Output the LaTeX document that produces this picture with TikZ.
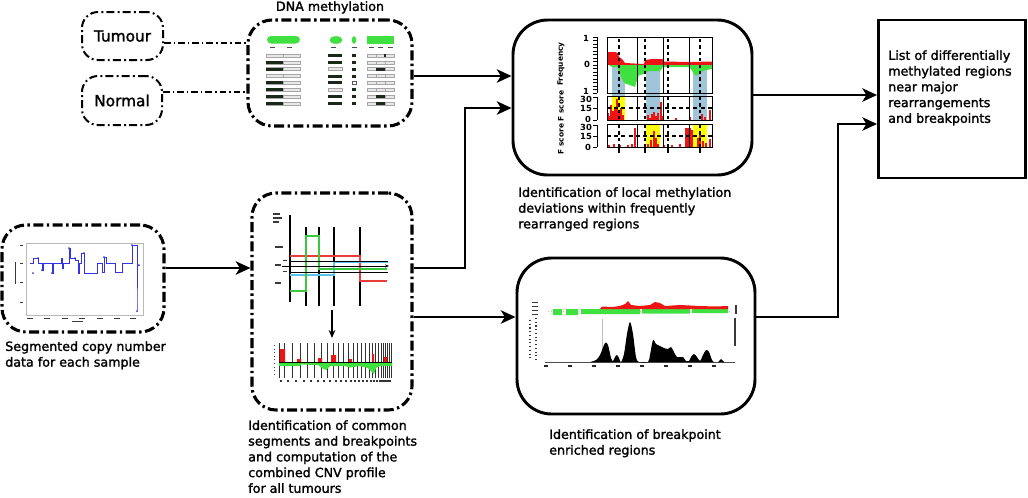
\documentclass[tikz,border=0pt]{standalone}
\usepackage{fontspec}
\setmainfont{DejaVu Sans}[FakeBold=1.6]
\newfontfamily\plotfont{DejaVu Sans Bold}
\usetikzlibrary{arrows.meta}
\definecolor{mgreen}{RGB}{64,224,64}
\definecolor{mred}{RGB}{236,20,20}
\definecolor{sblue}{RGB}{160,196,216}
\definecolor{yel}{RGB}{255,255,0}
\definecolor{cblue}{RGB}{90,195,235}
\definecolor{cgreen}{RGB}{60,200,60}
\definecolor{cred}{RGB}{235,60,60}
\definecolor{segblue}{RGB}{50,50,230}
\definecolor{mdark}{RGB}{25,40,25}
\definecolor{mlight}{RGB}{232,232,232}
\begin{document}
\begin{tikzpicture}[x=0.75pt,y=-0.75pt,
  ddbox/.style={draw, line width=2.3pt, dash pattern=on 7.5pt off 2.6pt on 1.8pt off 2.6pt, rounded corners=18pt, inner sep=0pt},
  ddsmall/.style={draw, line width=1.5pt, dash pattern=on 6pt off 2.4pt on 1.4pt off 2.4pt, rounded corners=12pt, inner sep=0pt, font=\fontsize{11.5}{13}\selectfont},
  sbox/.style={draw, line width=2.2pt, rounded corners=26pt, inner sep=0pt},
  rbox/.style={draw, line width=1.9pt, inner sep=0pt},
  arr/.style={line width=2.2pt, -{Stealth[length=11pt,width=10pt,inset=3pt]}},
  ddline/.style={line width=1.1pt, dash pattern=on 5pt off 2.2pt on 1.2pt off 2.2pt},
  captext/.style={font=\fontsize{9.5}{11.8}\selectfont, align=left, inner sep=0pt, anchor=north west},
  tinytxt/.style={font=\plotfont\fontsize{6.3}{7}\selectfont, inner sep=0pt},
  rtinytxt/.style={font=\plotfont\fontsize{5.6}{6}\selectfont, inner sep=0pt, rotate=90},
  smudge/.style={gray!45!black, line width=0.9pt}
]
\useasboundingbox (0,0) rectangle (1028,497);

% ---------- helper coordinates ----------
\coordinate (h43) at (0,43);
\coordinate (h92) at (0,92);
\coordinate (h76) at (0,76);
\coordinate (h95) at (0,95);
\coordinate (h108) at (0,108);
\coordinate (h124) at (0,124);
\coordinate (h268) at (0,268);
\coordinate (h317) at (0,317);
\coordinate (v465) at (465,0);
\coordinate (v838) at (838,0);

% ---------- boxes ----------
\node[ddsmall, minimum width=60.75pt, minimum height=36pt] (tum) at (122.5,36) {Tumour};
\node[ddsmall, minimum width=60pt, minimum height=36.75pt] (nor) at (122,100.5) {Normal};
\node[ddbox, minimum width=123pt, minimum height=79.5pt] (meth) at (330,73) {};
\node[sbox, minimum width=179.25pt, minimum height=116.25pt] (freq) at (632.5,97.5) {};
\node[rbox, minimum width=110.5pt, minimum height=118.5pt] (res) at (952,99) {};
\node[ddbox, minimum width=121.5pt, minimum height=80.25pt] (seg) at (83,278.5) {};
\node[ddbox, minimum width=120pt, minimum height=162.75pt] (cnv) at (332,301.5) {};
\node[sbox, minimum width=178.5pt, minimum height=117pt] (brk) at (636,336) {};

% ---------- texts ----------
\node[font=\fontsize{9.5}{12}\selectfont, inner sep=0pt, anchor=north] (tdna) at (330,1) {DNA methylation};
\node[captext] (tfreq) at (518,187) {Identification of local methylation\\deviations within frequently\\rearranged regions};
\node[captext] (tres) at (888,50) {List of differentially\\methylated regions\\near major\\rearrangements\\and breakpoints};
\node[captext] (tseg) at (5,341) {Segmented copy number\\data for each sample};
\node[captext] (tcnv) at (248,420) {Identification of common\\segments and breakpoints\\and computation of the\\combined CNV profile\\for all tumours};
\node[captext] (tbrk) at (549,429) {Identification of breakpoint\\enriched regions};

% ---------- connectors ----------
\draw[ddline] (tum.east |- h43) -- (meth.west |- h43);
\draw[ddline] (nor.east |- h92) -- (meth.west |- h92);
\draw[arr] (meth.east |- h76) -- (freq.west |- h76);
\draw[arr] (cnv.east |- h268) -- (v465 |- h268) -- (v465 |- h108) -- (freq.west |- h108);
\draw[arr] (cnv.east |- h317) -- (brk.west |- h317);
\draw[arr] (seg.east |- h268) -- (cnv.west |- h268);
\draw[arr] (freq.east |- h95) -- (res.west |- h95);
\draw[arr] (brk.east |- h317) -- (v838 |- h317) -- (v838 |- h124) -- (res.west |- h124);

% ---------- DNA methylation table ----------
\fill[mgreen, rounded corners=3pt] (267,36) rectangle (300,43.5);
\fill[mgreen] (336,40) ellipse [x radius=6.5, y radius=3.8];
\fill[mgreen] (354,40) ellipse [x radius=2.2, y radius=3.8];
\fill[mgreen] (367,36) rectangle (394,43.5);
\foreach \x in {270,287,331,352,369,378,388} \draw[gray!60!black, line width=0.5pt] (\x,47) -- (\x+5,47);
\foreach \i/\a/\b/\c/\d in {0/0/1/1/0,1/1/1/1/0,2/1/0/1/2,3/0/1/1/0,4/1/1/0/0,5/1/0/1/0,6/1/1/1/2,7/1/1/1/2}{
  \pgfmathsetmacro\yy{54+\i*6.85}
  \draw[gray!70, line width=0.4pt, fill=mlight] (266,\yy) rectangle (300,{\yy+3});
  \draw[gray!70, line width=0.4pt] (283,\yy) -- (283,{\yy+3});
  \ifnum\a=1 \fill[mdark] (266,\yy) rectangle (283,{\yy+3}); \fi
  \ifnum\b=1 \fill[mdark] (328,\yy) rectangle (342,{\yy+3}); \else \draw[gray!70, line width=0.4pt, fill=mlight] (328,\yy) rectangle (342,{\yy+3}); \fi
  \ifnum\c=1 \fill[mdark] (352,\yy) rectangle (356,{\yy+3}); \else \draw[gray!70!black, line width=0.4pt, fill=white] (352,\yy) rectangle (356,{\yy+3}); \fi
  \draw[gray!70, line width=0.4pt, fill=mlight] (367,\yy) rectangle (394,{\yy+3});
  \draw[gray!70, line width=0.4pt] (376,\yy) -- (376,{\yy+3}) (385,\yy) -- (385,{\yy+3});
  \ifnum\d=2 \fill[mdark] (376,\yy) rectangle (385,{\yy+3}); \fi
}
\fill[mdark] (384,54) rectangle (385.5,57);

% ---------- frequency / F score plot ----------
\fill[sblue] (612,65) rectangle (625,97);
\fill[sblue] (646,65) rectangle (660,120);
\fill[sblue] (693,65) rectangle (707,120);
\fill[yel] (612,97) rectangle (625,120);
\fill[yel] (646,124.5) rectangle (660,147);
\fill[yel] (693,124.5) rectangle (707,147);
\fill[mred] (607,65) -- (607,52) -- (615,52) -- (618,53) -- (619,57) -- (622,59) -- (625,63) -- (644,64) -- (645,60) -- (652,59) -- (663,59) -- (664,61.5) -- (690,62) -- (712,61.5) -- (712,65) -- cycle;
\fill[mgreen] (609,65) -- (612,67) -- (617,67) -- (619,71) -- (621,77) -- (624,83) -- (630,85) -- (635,87) -- (637,80) -- (639,75) -- (645,74) -- (648,71) -- (660,71) -- (663,67) -- (688,67) -- (691,69) -- (694,74) -- (697,76) -- (700,72) -- (706,70) -- (712,69) -- (712,65) -- cycle;
\foreach \x/\t in {608/113,610/116,611/105,613/111,615/109,617/99,619/112,621/108,623/115,648/115,650/118,652/114,654/112,656/116,658/113,661/102,663/116,676/118,690/117,702/114,705/117,710/110}
  \draw[mred, line width=0.9pt] (\x,119.5) -- (\x,\t);
\foreach \x/\t in {609/145,614/144,620/145,628/145,632/144,635/128,648/144,651/140,654/131,656/138,658/144,664/145,672/145,680/144,686/128,688/128,690/128,692/130,698/138,700/134,703/141,706/143,710/139}
  \draw[mred, line width=0.9pt] (\x,146.5) -- (\x,\t);
\draw[line width=0.6pt] (607,37) rectangle (712,93) (607,96) rectangle (712,120) (607,124) rectangle (712,147);
\foreach \x in {637,663,689} \draw[line width=0.6pt] (\x,37) -- (\x,93) (\x,96) -- (\x,120) (\x,124) -- (\x,147);
\foreach \x in {619,645,668,700}{
  \draw[line width=0.8pt, dash pattern=on 2.4pt off 2.4pt] (\x,39) -- (\x,93) (\x,97) -- (\x,120) (\x,125) -- (\x,147);
  \draw[line width=0.8pt] (\x,147) -- (\x,153);
}
\draw[line width=0.8pt, dash pattern=on 3pt off 2.4pt] (607,108) -- (712,108) (607,136) -- (712,136);
\draw[line width=0.6pt] (597,37) -- (597,93) (597,97) -- (597,120) (597,125) -- (597,147);
\foreach \y in {37,40.5,...,93} \draw[line width=0.5pt] (593,\y) -- (597,\y);
\foreach \y in {97,108,120,125,136,147} \draw[line width=0.6pt] (593,\y) -- (597,\y);
\node[tinytxt] (f1) at (586,38) {1};
\node[tinytxt] (f0) at (587,64) {0};
\node[tinytxt] (f2) at (586,91) {1};
\node[tinytxt] (s30a) at (586,99) {30};
\node[tinytxt] (s15a) at (586,108.5) {15};
\node[tinytxt] (s0a) at (588,119) {0};
\node[tinytxt] (s30b) at (586,127) {30};
\node[tinytxt] (s15b) at (586,136.5) {15};
\node[tinytxt] (s0b) at (588,147) {0};
\node[rtinytxt] (lfreq) at (561,64) {Frequency};
\node[rtinytxt] (lfs1) at (561,106) {F score};
\node[rtinytxt] (lfs2) at (561,139) {F score};

% ---------- CNV box: upper plot ----------
\draw[line width=0.9pt] (290,215) -- (290,302);
\foreach \x in {306,319,334,360} \draw[line width=0.9pt] (\x,227) -- (\x,306);
\draw[cred, line width=1.2pt] (290,256) -- (360,256) -- (360,281) -- (387,281);
\draw[cblue, line width=1.2pt] (290,275) -- (334,275) -- (334,262) -- (388,262);
\draw[cgreen, line width=1.2pt] (290,291) -- (306,291) -- (306,236) -- (319,236) -- (319,269) -- (387,269);
\draw[line width=0.6pt] (290,261) -- (388,261) (290,272) -- (388,272);
\draw[line width=0.6pt, -{Stealth[length=3pt,width=2.5pt]}] (282,266) -- (389,266);
\draw[smudge] (273,214) -- (280,214) (273,218) -- (282,218) (273,222) -- (279,222);
\draw[smudge] (275,247) -- (283,247) (275,265) -- (281,265) (275,283) -- (281,283);
\draw[smudge, line width=0.6pt] (283,260) -- (287,260) (283,271) -- (287,271);
\draw[line width=1pt, -{Stealth[length=6pt,width=5pt]}] (332,310) -- (332,338);

% ---------- CNV box: lower plot ----------
\foreach \x in {279,284,292,300,307,314,321,327,333,338,343,348,353,357,361,365,369,372,375,378,381,383,385,387,389,391}
  \draw[gray!40!black, line width=0.5pt] (\x,343) -- (\x,378);
\fill[mred] (280,349) rectangle (285,362) (297,359) rectangle (301,362) (318,358) rectangle (322,362) (331,355) rectangle (336,362) (349,359) rectangle (352,362) (372,354) rectangle (374,362) (384,357) rectangle (387,362);
\fill[mgreen] (279,362) -- (279,366) -- (300,366) -- (301,364.5) -- (318,365) -- (322,368) -- (326,370) -- (330,366) -- (345,366) -- (350,367.5) -- (360,366) -- (368,368) -- (372,372) -- (374,374) -- (376,368) -- (380,366) -- (392,366) -- (392,362) -- cycle;
\draw[line width=0.4pt] (279,362) -- (392,362);
\draw[gray!60!black, line width=0.7pt, dotted] (274,345) -- (274,376);
\foreach \x in {281,288,296,304,311,318,324,330,336,341,346,351,355,359,363,367,371,374,377,380,382,384,386,388,390}
  \fill[gray!40!black] (\x-0.6,380) rectangle (\x+0.6,382);

% ---------- breakpoint plot ----------
\draw[gray!50, line width=0.3pt, dotted] (548,311) -- (730,311);
\fill[mgreen] (553,309) rectangle (562,315) (566,309) rectangle (578,315) (581,309) rectangle (640,314) (642,309) rectangle (690,313.5) (692,309) rectangle (728,313);
\fill[mred] (600,309) -- (602,306.5) -- (612,307) -- (620,306) -- (625,304) -- (628,301) -- (631,305) -- (640,306) -- (650,305) -- (655,302) -- (660,303) -- (665,306) -- (680,305) -- (700,306) -- (715,306.5) -- (728,306) -- (728,309) -- cycle;
\foreach \y in {302,306,310,314} \draw[smudge, line width=0.7pt] (532,\y) -- (538,\y);
\draw[smudge, line width=1.6pt] (736,305) -- (736,314);
\draw[smudge, line width=0.8pt, dotted] (530,320) -- (530,360) (536,318) -- (536,360);
\draw[smudge, line width=1.4pt] (735,318) -- (735,346);
\draw[gray!60!black, line width=0.3pt] (545,362) -- (735,362);
\draw[gray!50, line width=0.3pt] (602,319) -- (602,362);
\fill[black] plot[smooth, tension=0.5] coordinates {(590,362) (596,360) (600,355) (605,343) (608,345) (611,358) (613,361) (615,357) (617,355) (619,358) (621,362) (624,354) (627,334) (630,322) (633,334) (636,357) (639,362) (648,362) (650,355) (653,340) (656,344) (660,346) (664,348) (668,349) (671,347) (674,352) (677,357) (683,357) (686,361) (689,361) (691,357) (694,354) (697,357) (700,361) (703,355) (706,350) (709,352) (712,360) (714,362)} -- cycle;
\fill[black] (718,362) -- (721,359) -- (724,362) -- cycle;
\foreach \x in {546,570,594,618,642,666,690,714} \draw[gray!30!black, line width=1pt] (\x-2,366) -- (\x+2,366);

% ---------- segmented copy number plot ----------
\draw[gray!55, line width=0.4pt] (26,243) rectangle (143,315);
\foreach \y in {245,263,282,302} \draw[smudge, line width=0.6pt] (20,\y) -- (23,\y);
\draw[smudge, line width=0.5pt] (15,262) -- (15,284);
\foreach \x in {30,47,65,82,100,117,133} \draw[smudge, line width=0.6pt] (\x-3,318) -- (\x+3,318);
\draw[smudge, line width=0.6pt] (72,321) -- (83,321);
\draw[segblue, line width=0.6pt] (30,263) -- (33,263) -- (33,258) -- (38,258) -- (38,263) -- (42,263) -- (42,270) -- (43,270) -- (43,263) -- (52,263) -- (52,273) -- (53,273) -- (53,263) -- (61,263) -- (61,258) -- (62,258) -- (62,268) -- (63,268) -- (63,263) -- (69,263) -- (69,248) -- (70,248) -- (70,258) -- (75,258) -- (75,260) -- (78,260) -- (78,273) -- (79,273) -- (79,263) -- (81,263) -- (81,253) -- (84,253) -- (84,273) -- (97,273) -- (97,263) -- (102,263) -- (102,272) -- (104,272) -- (104,257) -- (106,257) -- (106,263) -- (115,263) -- (115,272) -- (122,272) -- (122,263) -- (132,263) -- (132,245) -- (137,245) -- (137,311) -- (137,265) -- (139,265);
\foreach \p in {(33,273),(42,270),(52,273),(53,270),(63,268),(69,248),(79,273),(84,253),(104,257),(132,245),(137,311),(139,265),(38,258),(75,258)}
  \fill[segblue] \p circle [radius=1];
\end{tikzpicture}
\end{document}
